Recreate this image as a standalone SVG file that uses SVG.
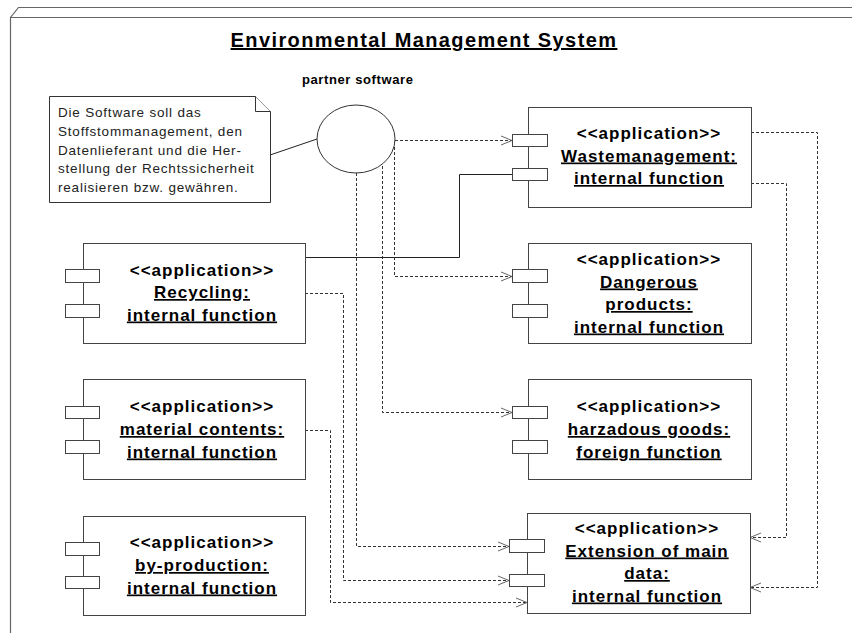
<svg xmlns="http://www.w3.org/2000/svg" width="852" height="633" viewBox="0 0 852 633">
  <style>
    .frame { fill: none; stroke: #666; stroke-width: 1.2; }
    .box { fill: #fff; stroke: #444; stroke-width: 1; }
    .port { fill: #fff; stroke: #444; stroke-width: 1; }
    .note { fill: #fff; stroke: #333; stroke-width: 1; }
    .iface { fill: #fff; stroke: #333; stroke-width: 1; }
    .dep { fill: none; stroke: #333; stroke-width: 1; stroke-dasharray: 3 2; marker-end: url(#open); }
    .dep-plain { fill: none; stroke: #333; stroke-width: 1; stroke-dasharray: 3 2; }
    .assoc { fill: none; stroke: #222; stroke-width: 1; }
    .t { font-family: "Liberation Sans", Arial, sans-serif; font-weight: bold; font-size: 17px; letter-spacing: 1px; text-anchor: middle; fill: #000; }
    .u { text-decoration: underline; }
    .title { font-family: "Liberation Sans", Arial, sans-serif; font-weight: bold; font-size: 20px; letter-spacing: 1.4px; text-anchor: middle; fill: #000; text-decoration: underline; }
    .lbl { font-family: "Liberation Sans", Arial, sans-serif; font-weight: bold; font-size: 13px; letter-spacing: 0.6px; fill: #000; }
    .nt { font-family: "Liberation Sans", Arial, sans-serif; font-size: 13.5px; letter-spacing: 0.8px; fill: #222; }
  </style>
  <defs>
    <marker id="open" markerUnits="userSpaceOnUse" markerWidth="14" markerHeight="12" refX="12" refY="6" orient="auto" viewBox="0 0 14 12">
      <path d="M1,1.5 L12,6 L1,10.5" fill="none" stroke="#666" stroke-width="1" stroke-dasharray="none"/>
    </marker>
  </defs>

  <rect width="852" height="633" fill="#fff"/>

  <!-- subsystem frame -->
  <g id="frame">
    <path class="frame" d="M10.5,633 V17.5 L18.5,7.5 H852"/>
    <path class="frame" d="M10.5,17.5 H852"/>
    <text class="title" x="424" y="47">Environmental Management System</text>
  </g>

  <!-- connectors -->
  <g id="connectors">
    <path class="assoc" d="M270,155 L317,139"/>
    <path class="assoc" d="M305,257.5 H459.5 V174.5 H512"/>
    <path class="dep" d="M395,140.5 H512"/>
    <path class="dep" d="M394.5,142 V276.5 H512"/>
    <path class="dep" d="M382.5,166 V412.5 H512"/>
    <path class="dep" d="M356.5,173 V546.5 H509"/>
    <path class="dep" d="M305,293.5 H343.5 V580.5 H509"/>
    <path class="dep" d="M305,430.5 H330.5 V602.5 H527"/>
    <path class="dep" d="M751,132.5 H817.5 V587.5 H750"/>
    <path class="dep" d="M751,183.5 H786.5 V537.5 H750"/>
  </g>

  <!-- interface: partner software -->
  <g id="partner-software">
    <ellipse class="iface" cx="356" cy="139" rx="39" ry="34"/>
    <text class="lbl" x="302" y="84">partner software</text>
  </g>

  <!-- note -->
  <g id="note">
    <path class="note" d="M49.5,96.5 H255.5 L270.5,111.5 V202.5 H49.5 Z"/>
    <path class="note" d="M255.5,96.5 V111.5 H270.5" fill="none"/>
    <text class="nt" x="58" y="117">Die Software soll das</text>
    <text class="nt" x="58" y="136">Stoffstommanagement, den</text>
    <text class="nt" x="58" y="155">Datenlieferant und die Her-</text>
    <text class="nt" x="58" y="173">stellung der Rechtssicherheit</text>
    <text class="nt" x="58" y="192">realisieren bzw. gewähren.</text>
  </g>

  <!-- Wastemanagement -->
  <g id="wastemanagement">
    <rect class="box" x="528.5" y="107.5" width="223" height="100"/>
    <rect class="port" x="512.5" y="134.5" width="35" height="12"/>
    <rect class="port" x="512.5" y="168.5" width="35" height="12"/>
    <text class="t" x="649" y="139">&lt;&lt;application&gt;&gt;</text>
    <text class="t u" x="649" y="161.5">Wastemanagement:</text>
    <text class="t u" x="649" y="184">internal function</text>
  </g>

  <!-- Recycling -->
  <g id="recycling">
    <rect class="box" x="83.5" y="243.5" width="222" height="100"/>
    <rect class="port" x="65.5" y="269.5" width="34" height="13"/>
    <rect class="port" x="65.5" y="304.5" width="34" height="13"/>
    <text class="t" x="202" y="275.5">&lt;&lt;application&gt;&gt;</text>
    <text class="t u" x="202" y="298">Recycling:</text>
    <text class="t u" x="202" y="320.5">internal function</text>
  </g>

  <!-- Dangerous products -->
  <g id="dangerous-products">
    <rect class="box" x="528.5" y="243.5" width="223" height="100"/>
    <rect class="port" x="512.5" y="269.5" width="35" height="13"/>
    <rect class="port" x="512.5" y="304.5" width="35" height="13"/>
    <text class="t" x="649" y="265">&lt;&lt;application&gt;&gt;</text>
    <text class="t u" x="649" y="287.5">Dangerous</text>
    <text class="t u" x="649" y="310">products:</text>
    <text class="t u" x="649" y="332.5">internal function</text>
  </g>

  <!-- material contents -->
  <g id="material-contents">
    <rect class="box" x="83.5" y="379.5" width="222" height="100"/>
    <rect class="port" x="65.5" y="406.5" width="34" height="12"/>
    <rect class="port" x="65.5" y="440.5" width="34" height="13"/>
    <text class="t" x="202" y="412">&lt;&lt;application&gt;&gt;</text>
    <text class="t u" x="202" y="435">material contents:</text>
    <text class="t u" x="202" y="457.5">internal function</text>
  </g>

  <!-- harzadous goods -->
  <g id="harzadous-goods">
    <rect class="box" x="528.5" y="379.5" width="223" height="100"/>
    <rect class="port" x="512.5" y="406.5" width="35" height="12"/>
    <rect class="port" x="512.5" y="440.5" width="35" height="13"/>
    <text class="t" x="649" y="412">&lt;&lt;application&gt;&gt;</text>
    <text class="t u" x="649" y="435">harzadous goods:</text>
    <text class="t u" x="649" y="457.5">foreign function</text>
  </g>

  <!-- by-production -->
  <g id="by-production">
    <rect class="box" x="83.5" y="516.5" width="222" height="99"/>
    <rect class="port" x="65.5" y="542.5" width="34" height="13"/>
    <rect class="port" x="65.5" y="576.5" width="34" height="12"/>
    <text class="t" x="202" y="548">&lt;&lt;application&gt;&gt;</text>
    <text class="t u" x="202" y="571">by-production:</text>
    <text class="t u" x="202" y="593.5">internal function</text>
  </g>

  <!-- Extension of main data -->
  <g id="extension-of-main-data">
    <rect class="box" x="527.5" y="513.5" width="223" height="100"/>
    <rect class="port" x="509.5" y="539.5" width="35" height="13"/>
    <rect class="port" x="509.5" y="574.5" width="35" height="12"/>
    <text class="t" x="647" y="533.5">&lt;&lt;application&gt;&gt;</text>
    <text class="t u" x="647" y="556.5">Extension of main</text>
    <text class="t u" x="647" y="579">data:</text>
    <text class="t u" x="647" y="601.5">internal function</text>
  </g>
</svg>
